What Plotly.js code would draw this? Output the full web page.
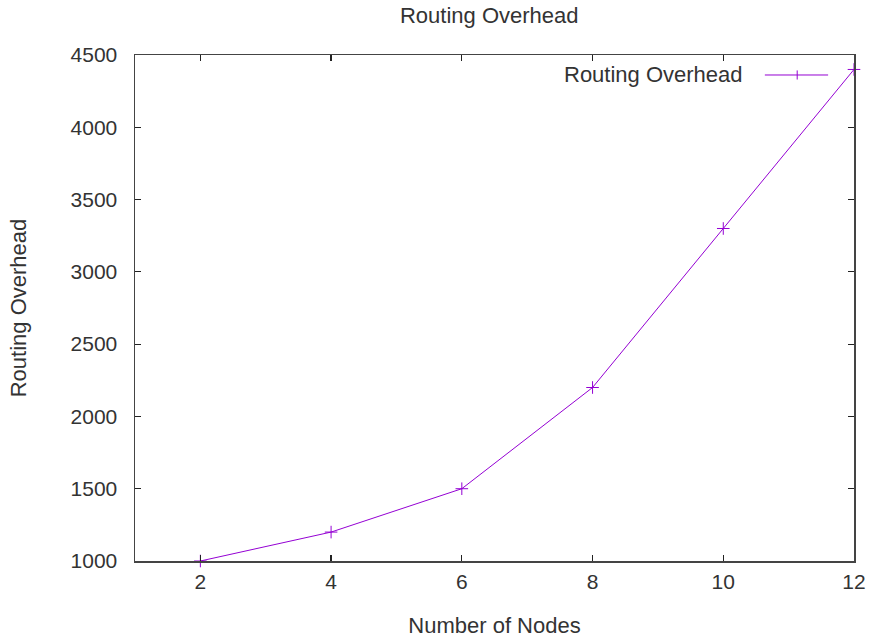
<!DOCTYPE html>
<html>
<head>
<meta charset="utf-8">
<script src="https://cdn.plot.ly/plotly-3.0.1.min.js"></script>
<style>html,body{margin:0;padding:0;background:#fff;}#chart{width:869px;height:640px;}</style>
</head>
<body>
<div id="chart"></div>
<script>
const nodes = [2, 4, 6, 8, 10, 12];
const overhead = [1000, 1200, 1500, 2200, 3300, 4400];
const xTicks = [2, 4, 6, 8, 10, 12];
const yTicks = [1000, 1500, 2000, 2500, 3000, 3500, 4000, 4500];
const seriesName = 'Routing Overhead';

const lineColor = '#9400d3';
const fam = 'Liberation Sans, Arial, sans-serif';
const mkFont = (s) => ({family: fam, size: s || 22, color: '#333'});

const axisCommon = () => ({
  showgrid: false, zeroline: false, showline: true, mirror: 'ticks',
  linecolor: '#444', linewidth: 1.5, ticks: 'inside', ticklen: 6, tickwidth: 1.2,
  tickcolor: '#222', tickfont: mkFont(21)
});

const trace = {
  x: nodes, y: overhead, type: 'scatter', mode: 'lines+markers', name: seriesName,
  line: {color: lineColor, width: 1},
  marker: {symbol: 'cross-thin', size: 9, line: {color: lineColor, width: 1}},
  showlegend: false, cliponaxis: false
};

const layout = {
  width: 869, height: 640,
  margin: {l: 135, r: 15, t: 55, b: 79},
  paper_bgcolor: '#fff', plot_bgcolor: '#fff',
  font: mkFont(),
  title: {text: 'Routing Overhead', font: mkFont(), x: 0.563, xanchor: 'center', y: 0.9766, yanchor: 'middle'},
  xaxis: Object.assign(axisCommon(), {
    range: [1, 12], tickvals: xTicks, ticktext: xTicks.map(String), ticklabelstandoff: 1,
    title: {text: 'Number of Nodes', font: mkFont(), standoff: 26}
  }),
  yaxis: Object.assign(axisCommon(), {
    range: [1000, 4500], tickvals: yTicks, ticktext: yTicks.map(String), ticklabelstandoff: 12,
    title: {text: 'Routing Overhead', font: mkFont(), standoff: 38}
  }),
  annotations: [{
    xref: 'paper', yref: 'paper', x: 0.848, y: 0.9605, xanchor: 'right', yanchor: 'middle',
    text: seriesName, showarrow: false, font: mkFont()
  }],
  shapes: [
    {type: 'line', xref: 'paper', yref: 'paper', x0: 0.876, x1: 0.964, y0: 0.9605, y1: 0.9605, line: {color: lineColor, width: 1}},
    {type: 'line', xref: 'paper', yref: 'paper', x0: 0.921, x1: 0.921, y0: 0.9515, y1: 0.9695, line: {color: lineColor, width: 1}}
  ]
};

Plotly.newPlot('chart', [trace], layout, {displayModeBar: false, staticPlot: true});
</script>
</body>
</html>
